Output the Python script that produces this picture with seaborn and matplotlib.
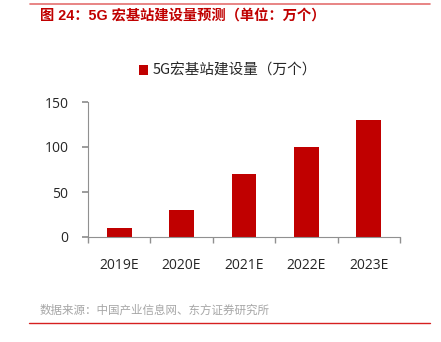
import matplotlib
matplotlib.use("Agg")
import matplotlib.pyplot as plt
import seaborn as sns
import pandas as pd
from matplotlib.lines import Line2D
from matplotlib.patches import Patch

categories = ["2019E", "2020E", "2021E", "2022E", "2023E"]
values = [10, 30, 70, 100, 130]
series_name = "5G宏基站建设量（万个）"
title_text = "图 24：5G 宏基站建设量预测（单位：万个）"
source_text = "数据来源：中国产业信息网、东方证券研究所"
yticks = [0, 50, 100, 150]

sns.set_theme(style="white")
plt.rcParams['font.family'] = ['Open Sans', 'Noto Sans CJK SC', 'DejaVu Sans']

df = pd.DataFrame({"year": categories, "value": values})

fig = plt.figure(figsize=(4.41, 3.42), dpi=100)
ax = fig.add_axes([88/441, 1-237/342, (400-88)/441, (237-102)/342])

bar_color = "#C00000"
sns.barplot(data=df, x="year", y="value", color=bar_color, width=0.4,
            saturation=1, ax=ax, edgecolor="none")

ax.set_ylim(0, 150)
ax.set_xlim(-0.5, 4.5)
ax.set_yticks(yticks)
ax.set_yticklabels([str(t) for t in yticks], fontsize=10)
ax.set_xticks(range(len(categories)))
ax.set_xticklabels(categories, fontsize=10)
ax.set_xlabel("")
ax.set_ylabel("")
for s in ["top", "right"]:
    ax.spines[s].set_visible(False)
for s in ["left", "bottom"]:
    ax.spines[s].set_color("#909090")
    ax.spines[s].set_linewidth(0.8)
ax.tick_params(axis="y", which="both", left=True, length=4, color="#909090", pad=10)
ax.tick_params(axis="x", which="both", bottom=False, pad=9)
ax.set_xticks([i - 0.5 for i in range(len(categories) + 1)], minor=True)
ax.tick_params(axis="x", which="minor", bottom=True, length=4, color="#909090")

handle = Patch(facecolor=bar_color, edgecolor="none")
fig.legend([handle], [series_name], loc="center", bbox_to_anchor=(228/441, 1-71/342),
           frameon=False, handlelength=0.6, handleheight=0.6,
           handletextpad=0.3, prop={'family': ['Noto Sans CJK SC'], 'size': 10.5})

fig.add_artist(Line2D([30/441, 430/441], [1-3.5/342, 1-3.5/342], color="#E47070", lw=1.2,
                      transform=fig.transFigure))
fig.add_artist(Line2D([29/441, 430/441], [1-322.5/342, 1-322.5/342], color="#D62020", lw=1.0,
                      transform=fig.transFigure))

fig.text(40/441, 1-16/342, title_text, color="#C00000", fontsize=10.3, fontweight="bold",
         va="center", ha="left", family=['Liberation Sans', 'Noto Sans CJK SC'])
fig.text(40/441, 1-310/342, source_text, color="#A6A6A6", fontsize=8.3,
         va="center", ha="left", family=['Noto Sans CJK SC'])

fig.savefig("out.png", dpi=100)
